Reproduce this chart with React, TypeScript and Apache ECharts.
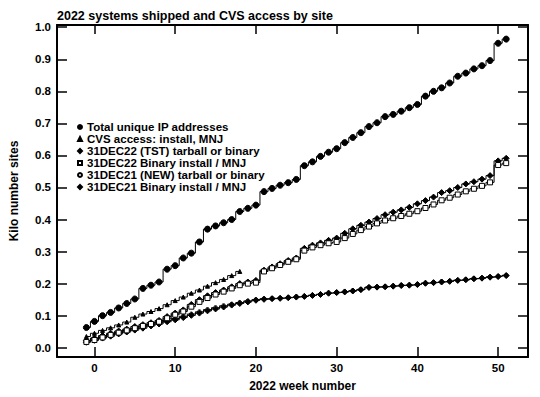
import React, { useEffect, useRef } from "react";
import * as echarts from "echarts";

const weeks = Array.from({ length: 53 }, (_, i) => i - 1);
const cvsWeeks = Array.from({ length: 20 }, (_, i) => i - 1);

const totalIP = [
  0.063, 0.082, 0.1, 0.11, 0.124, 0.138, 0.152, 0.185, 0.195, 0.205, 0.245, 0.256, 0.28, 0.295,
  0.33, 0.37, 0.38, 0.39, 0.4, 0.425, 0.435, 0.445, 0.487, 0.497, 0.507, 0.515, 0.525, 0.568,
  0.58, 0.597, 0.61, 0.621, 0.64, 0.656, 0.671, 0.69, 0.702, 0.721, 0.728, 0.738, 0.749, 0.759,
  0.785, 0.8, 0.811, 0.826, 0.847, 0.857, 0.87, 0.88, 0.896, 0.95, 0.963,
];
const cvsAccess = [
  0.035, 0.045, 0.054, 0.062, 0.071, 0.08, 0.095, 0.105, 0.113, 0.122, 0.134, 0.147, 0.158,
  0.17, 0.18, 0.192, 0.203, 0.213, 0.225, 0.238,
];
const tst22 = [
  0.022, 0.03, 0.038, 0.045, 0.052, 0.058, 0.066, 0.072, 0.078, 0.085, 0.097, 0.108, 0.118,
  0.135, 0.15, 0.162, 0.172, 0.18, 0.19, 0.2, 0.205, 0.21, 0.242, 0.252, 0.262, 0.272, 0.28,
  0.31, 0.32, 0.327, 0.335, 0.342, 0.357, 0.371, 0.382, 0.392, 0.403, 0.415, 0.423, 0.43,
  0.438, 0.449, 0.459, 0.47, 0.484, 0.49, 0.5, 0.511, 0.518, 0.526, 0.537, 0.583, 0.591,
];
const bin22 = [
  0.018, 0.024, 0.032, 0.04, 0.047, 0.054, 0.061, 0.068, 0.074, 0.081, 0.092, 0.103, 0.113,
  0.128, 0.143, 0.155, 0.166, 0.175, 0.185, 0.195, 0.2, 0.203, 0.238, 0.248, 0.258, 0.268,
  0.276, 0.303, 0.313, 0.32, 0.326, 0.33, 0.342, 0.355, 0.367, 0.378, 0.388, 0.397, 0.404,
  0.411, 0.418, 0.426, 0.436, 0.447, 0.46, 0.468, 0.478, 0.488, 0.496, 0.505, 0.516, 0.57,
  0.576,
];
const new21 = [
  0.022, 0.028, 0.034, 0.041, 0.047, 0.053, 0.059, 0.065, 0.072, 0.078, 0.085, 0.091, 0.098,
  0.105, 0.112, 0.119, 0.125, 0.131, 0.136, 0.141, 0.146, 0.15, 0.153, 0.154, 0.155, 0.157,
  0.159, 0.161, 0.164, 0.167, 0.171, 0.173, 0.175, 0.178, 0.182, 0.189, 0.19, 0.191, 0.193,
  0.195, 0.196, 0.198, 0.202, 0.204, 0.206, 0.208, 0.211, 0.213, 0.216, 0.218, 0.221, 0.223,
  0.226,
];
const bin21 = [
  0.017, 0.023, 0.03, 0.036, 0.043, 0.049, 0.055, 0.061, 0.068, 0.074, 0.081, 0.087, 0.094,
  0.101, 0.108, 0.115, 0.121, 0.127, 0.133, 0.138, 0.143, 0.148, 0.151, 0.153, 0.154, 0.156,
  0.158, 0.16, 0.163, 0.166, 0.17, 0.172, 0.174, 0.177, 0.181, 0.188, 0.189, 0.19, 0.192,
  0.194, 0.195, 0.197, 0.201, 0.203, 0.205, 0.207, 0.21, 0.212, 0.215, 0.217, 0.22, 0.222,
  0.225,
];

const xTicks = [0, 10, 20, 30, 40, 50];
const yTicks = [0, 0.1, 0.2, 0.3, 0.4, 0.5, 0.6, 0.7, 0.8, 0.9, 1.0];

const seriesNames = [
  "Total unique IP addresses",
  "CVS access: install, MNJ",
  "31DEC22 (TST) tarball or binary",
  "31DEC22 Binary install / MNJ",
  "31DEC21 (NEW) tarball or binary",
  "31DEC21 Binary install / MNJ",
];

const FONT = "Liberation Sans";

export default function App() {
  const ref = useRef<HTMLDivElement>(null);
  useEffect(() => {
    document.body.style.margin = "0";
    const chart = echarts.init(ref.current!, null, { renderer: "svg" });
    const pairs = (xs: number[], ys: number[]) => xs.map((x, i) => [x, ys[i]]);
    const mk = (
      name: string,
      xs: number[],
      ys: number[],
      symbol: string,
      size: number,
      fill: string,
      z: number
    ) => ({
      name,
      type: "line",
      step: "middle",
      data: pairs(xs, ys),
      symbol,
      symbolSize: size,
      showSymbol: true,
      lineStyle: { color: "#000", width: 1 },
      itemStyle: { color: fill, borderColor: "#000", borderWidth: 1 },
      z,
      emphasis: { disabled: true },
    });
    const tickStyle = { color: "#000", width: 1.5 };
    const lineStyle = { color: "#000", width: 2 };
    const xBase = {
      type: "value",
      min: -4.64,
      max: 53.7,
      splitLine: { show: false },
      axisLine: { show: true, onZero: false, lineStyle },
    };
    const yBase = {
      type: "value",
      min: -0.029,
      max: 1.007,
      splitLine: { show: false },
      axisLine: { show: true, onZero: false, lineStyle },
    };
    chart.setOption({
      animation: false,
      title: {
        text: "2022 systems shipped and CVS access by site",
        left: 52,
        top: 4,
        textStyle: { fontFamily: FONT, fontWeight: "bold", fontSize: 12.5, color: "#000" },
      },
      grid: {
        left: 56,
        right: 12,
        top: 25,
        bottom: 38,
      },
      legend: {
        orient: "vertical",
        left: 72,
        top: 116,
        itemGap: 0,
        itemWidth: 4,
        itemHeight: 4,
        selectedMode: false,
        textStyle: {
          fontFamily: FONT,
          fontWeight: "bold",
          fontSize: 11.5,
          lineHeight: 11,
          color: "#000",
        },
        data: [
          { name: seriesNames[0], icon: "circle" },
          { name: seriesNames[1], icon: "triangle" },
          { name: seriesNames[2], icon: "diamond" },
          { name: seriesNames[3], icon: "rect" },
          { name: seriesNames[4], icon: "circle" },
          { name: seriesNames[5], icon: "diamond" },
        ],
      },
      xAxis: [
        {
          ...xBase,
          position: "bottom",
          name: "2022 week number",
          nameLocation: "middle",
          nameGap: 23,
          nameTextStyle: {
            fontFamily: FONT,
            fontWeight: "bold",
            fontSize: 12,
            color: "#000",
            padding: [0, 0, 0, 20],
          },
          axisTick: { show: true, inside: true, length: 10, lineStyle: tickStyle, customValues: xTicks },
          axisLabel: {
            customValues: xTicks,
            fontFamily: FONT,
            fontWeight: "bold",
            fontSize: 11.5,
            color: "#000",
            margin: 5,
          },
        },
        {
          ...xBase,
          position: "top",
          axisTick: { show: true, inside: true, length: 9, lineStyle: tickStyle, customValues: xTicks },
          axisLabel: { show: false },
        },
      ],
      yAxis: [
        {
          ...yBase,
          position: "left",
          name: "Kilo number sites",
          nameLocation: "middle",
          nameGap: 37,
          nameTextStyle: { fontFamily: FONT, fontWeight: "bold", fontSize: 12, color: "#000" },
          axisTick: { show: true, inside: true, length: 10, lineStyle: tickStyle, customValues: yTicks },
          axisLabel: {
            customValues: yTicks,
            formatter: (v: number) => v.toFixed(1),
            fontFamily: FONT,
            fontWeight: "bold",
            fontSize: 11.5,
            color: "#000",
            margin: 6,
          },
        },
        {
          ...yBase,
          position: "right",
          axisTick: { show: true, inside: true, length: 10, lineStyle: tickStyle, customValues: yTicks },
          axisLabel: { show: false },
        },
      ],
      series: [
        mk(seriesNames[0], weeks, totalIP, "circle", 6, "#000", 6),
        mk(seriesNames[1], cvsWeeks, cvsAccess, "triangle", 4, "#000", 5),
        mk(seriesNames[2], weeks, tst22, "diamond", 6, "#000", 3),
        mk(seriesNames[3], weeks, bin22, "rect", 5, "#fff", 4),
        mk(seriesNames[4], weeks, new21, "circle", 4, "#fff", 1),
        mk(seriesNames[5], weeks, bin21, "diamond", 6, "#000", 2),
      ],
    });
    return () => chart.dispose();
  }, []);
  return (
    <div
      ref={ref}
      style={{ position: "fixed", left: 0, top: 0, width: 540, height: 397, background: "#fff" }}
    />
  );
}
